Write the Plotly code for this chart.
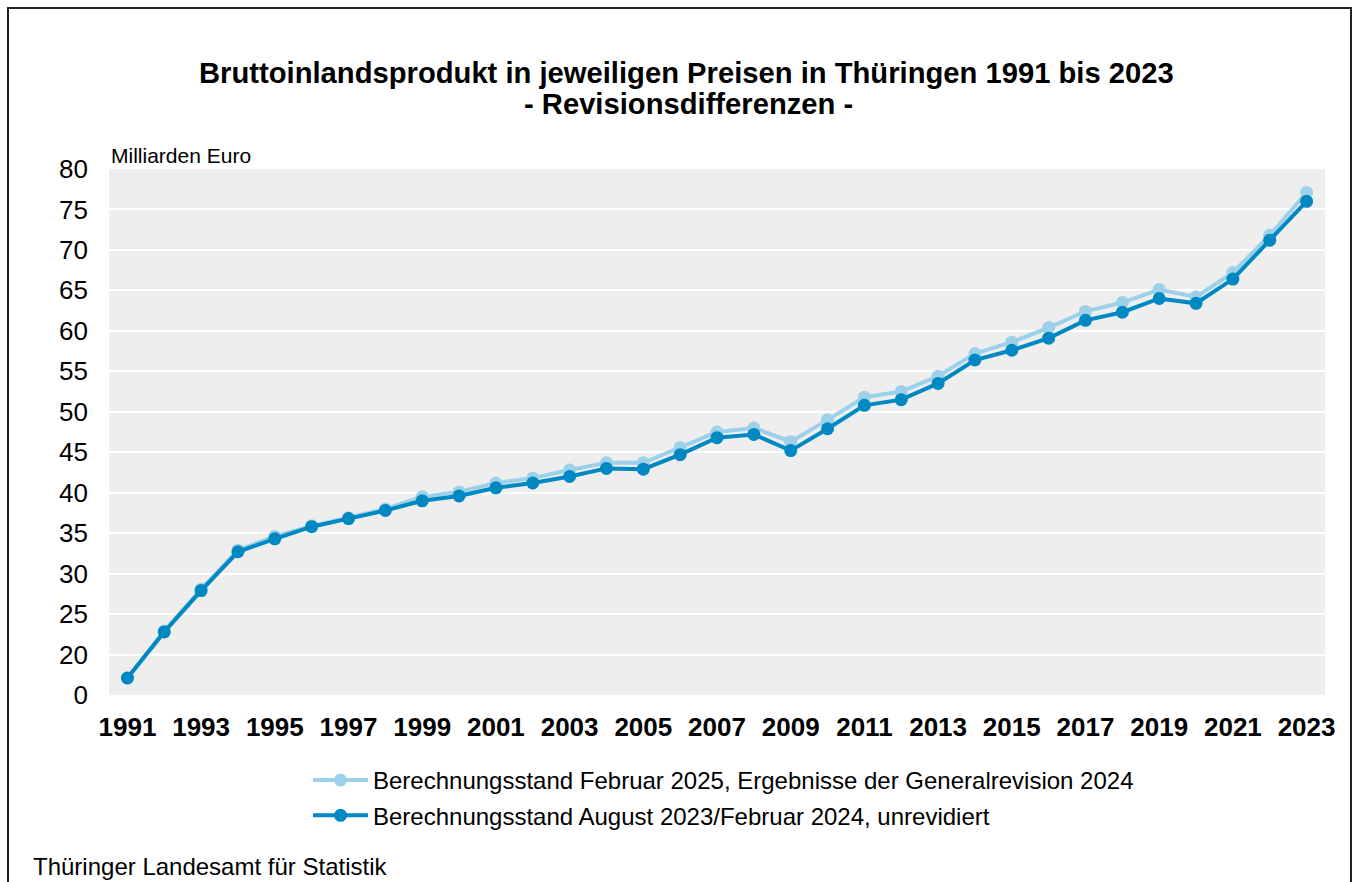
import plotly.graph_objects as go

years = list(range(1991, 2024))

revised = [17.1, 22.9, 28.1, 32.9, 34.6, 35.9, 36.9, 38.0, 39.5, 40.1,
           41.2, 41.8, 42.8, 43.7, 43.7, 45.6, 47.5, 48.0, 46.3, 49.0,
           51.8, 52.5, 54.4, 57.2, 58.6, 60.4, 62.4, 63.5, 65.1, 64.2,
           67.2, 71.8, 77.1]

unrevised = [17.1, 22.8, 27.9, 32.7, 34.3, 35.8, 36.8, 37.8, 39.0, 39.6,
             40.6, 41.2, 42.0, 43.0, 42.9, 44.7, 46.8, 47.2, 45.2, 47.9,
             50.8, 51.5, 53.5, 56.4, 57.6, 59.1, 61.3, 62.3, 64.0, 63.4,
             66.4, 71.2, 76.0]

name_revised = "Berechnungsstand Februar 2025, Ergebnisse der Generalrevision 2024"
name_unrevised = "Berechnungsstand August 2023/Februar 2024, unrevidiert"

ytick_vals = [15, 20, 25, 30, 35, 40, 45, 50, 55, 60, 65, 70, 75, 80]
ytick_text = ["0", "20", "25", "30", "35", "40", "45", "50", "55", "60", "65", "70", "75", "80"]
xtick_vals = list(range(1991, 2024, 2))

FONT = "Liberation Sans, Arial, sans-serif"
C_LIGHT = "#9DD1EA"
C_DARK = "#0088C2"

W, H = 1354, 882
L, R, T, B = 109, 1325, 169, 695  # plot area in page pixels
PW, PH = R - L, B - T


def px(xp):
    return (xp - L) / PW


def py(yp):
    return (B - yp) / PH


fig = go.Figure()
fig.add_trace(go.Scatter(
    x=years, y=revised, name=name_revised, mode="lines+markers",
    line=dict(color=C_LIGHT, width=4), marker=dict(color=C_LIGHT, size=13),
    legendgroup="a"))
fig.add_trace(go.Scatter(
    x=years, y=unrevised, name=name_unrevised, mode="lines+markers",
    line=dict(color=C_DARK, width=4), marker=dict(color=C_DARK, size=13),
    legendgroup="b"))

fig.update_layout(
    width=W, height=H,
    margin=dict(l=L, r=W - R, t=T, b=H - B, autoexpand=False),
    paper_bgcolor="white", plot_bgcolor="#EEEEEE",
    font=dict(family=FONT, color="black"),
    showlegend=True,
    legend=dict(
        xref="container", yref="container",
        x=308 / W, y=1 - 758 / H, xanchor="left", yanchor="top",
        font=dict(size=24, family=FONT, color="black"),
        traceorder="grouped", tracegroupgap=1, itemwidth=55,
        bgcolor="rgba(0,0,0,0)",
    ),
    xaxis=dict(
        range=[1990.5, 2023.5], tickmode="array", tickvals=xtick_vals,
        ticktext=[str(v) for v in xtick_vals],
        showgrid=False, zeroline=False, showline=False,
        tickfont=dict(size=26, family=FONT, color="black", weight="bold"),
        ticks="", ticklabelstandoff=14,
    ),
    yaxis=dict(
        range=[15, 80], tickmode="array", tickvals=ytick_vals, ticktext=ytick_text,
        showgrid=True, gridcolor="white", gridwidth=2, zeroline=False, showline=False,
        tickfont=dict(size=26, family=FONT, color="black"),
        ticks="", ticklabelstandoff=20,
    ),
)

fig.add_annotation(
    xref="paper", yref="paper", x=px(686), y=py(73.5),
    xanchor="center", yanchor="middle", showarrow=False,
    text="<b>Bruttoinlandsprodukt in jeweiligen Preisen in Thüringen 1991 bis 2023</b>",
    font=dict(size=29.2, family=FONT, color="black"))
fig.add_annotation(
    xref="paper", yref="paper", x=px(688), y=py(103.5),
    xanchor="center", yanchor="middle", showarrow=False,
    text="<b>- Revisionsdifferenzen -</b>",
    font=dict(size=29.2, family=FONT, color="black"))

fig.add_annotation(
    xref="paper", yref="paper", x=0.0, y=py(155),
    xanchor="left", yanchor="middle", showarrow=False,
    text="Milliarden Euro", font=dict(size=21, family=FONT, color="black"))

fig.add_annotation(
    xref="paper", yref="paper", x=px(31), y=py(866),
    xanchor="left", yanchor="middle", showarrow=False,
    text="Thüringer Landesamt für Statistik", font=dict(size=24, family=FONT, color="black"))

fig.add_shape(
    type="rect", xref="paper", yref="paper",
    x0=px(8), x1=px(1351), y0=py(900), y1=py(8),
    line=dict(color="#222222", width=2), fillcolor="rgba(0,0,0,0)", layer="below")

fig.write_html(
    "out.html",
    config={"displayModeBar": False},
    post_script="document.body.style.margin='0';document.body.style.overflow='hidden';")
